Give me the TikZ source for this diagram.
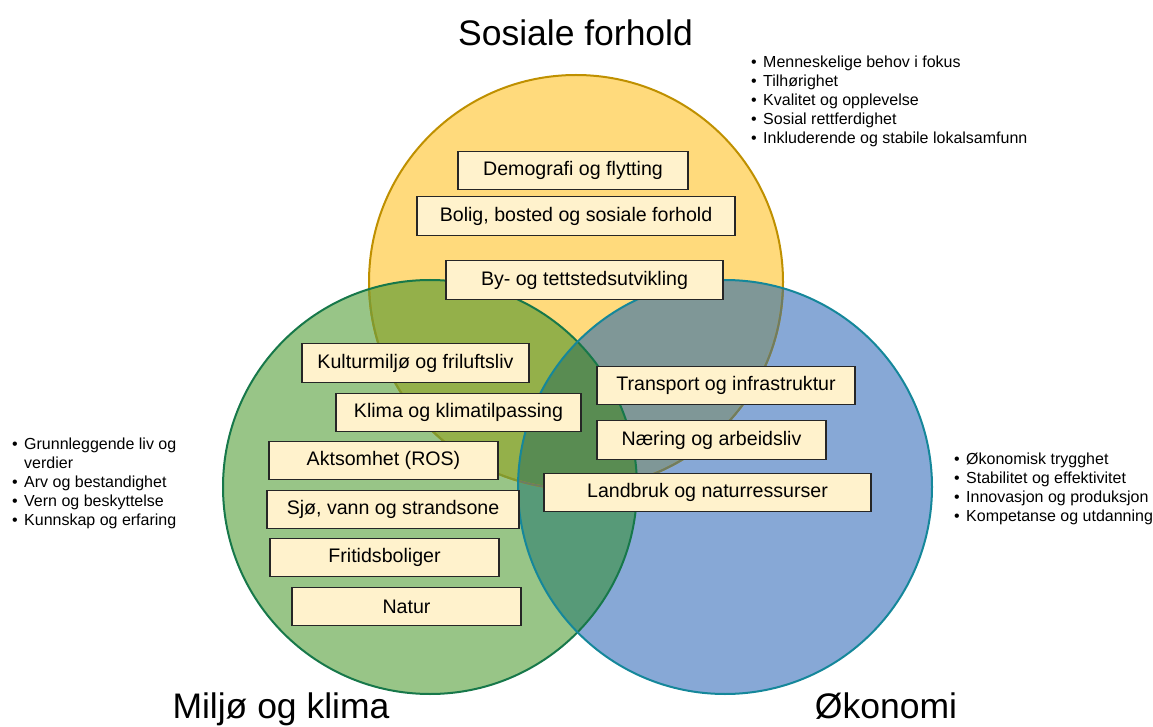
\documentclass[tikz,border=0pt]{standalone}
\usepackage{fontspec}
\setmainfont{Liberation Sans}
\usetikzlibrary{positioning}

\definecolor{socialFill}{HTML}{FFDA7C}
\definecolor{envFill}{HTML}{98C587}
\definecolor{econFill}{HTML}{87A8D6}
\definecolor{socEnvFill}{HTML}{94B04A}
\definecolor{socEconFill}{HTML}{7F9797}
\definecolor{envEconFill}{HTML}{579A78}
\definecolor{allFill}{HTML}{598C52}
\definecolor{socialEdge}{HTML}{BF9000}
\definecolor{socialEdgeEnv}{HTML}{7F9A30}
\definecolor{socialEdgeEcon}{HTML}{6E7C62}
\definecolor{envEdge}{HTML}{17784A}
\definecolor{econEdge}{HTML}{15879A}
\definecolor{topicFill}{HTML}{FFF2CC}

\begin{document}
\begin{tikzpicture}[x=1pt,y=1pt]
  \useasboundingbox (0,0) rectangle (1153,726);
  \tikzset{
    topic/.style={rectangle,draw=black!85,fill=topicFill,line width=1.1pt,
      minimum height=38.5pt,inner sep=0pt,font=\fontsize{19.6}{23}\selectfont},
    title/.style={anchor=base,inner sep=0pt,font=\fontsize{35.5}{40}\selectfont},
    bullets/.style={anchor=north west,inner sep=0pt,align=left,
      font=\fontsize{16}{19}\selectfont},
    ring/.style={line width=2pt},
    disc/.style={radius=207pt}
  }

  % Circle centres
  \coordinate (socialC) at (576,444);
  \coordinate (envC) at (430,239);
  \coordinate (econC) at (725,239);

  %%% FILLS
  \fill [socialFill] (socialC) circle [disc];
  \fill [envFill] (envC) circle [disc];
  \fill [econFill] (econC) circle [disc];
  \begin{scope}
    \clip (envC) circle [disc];
    \fill [socEnvFill] (socialC) circle [disc];
  \end{scope}
  \begin{scope}
    \clip (econC) circle [disc];
    \fill [socEconFill] (socialC) circle [disc];
  \end{scope}
  \begin{scope}
    \clip (envC) circle [disc];
    \fill [envEconFill] (econC) circle [disc];
    \clip (socialC) circle [disc];
    \fill [allFill] (econC) circle [disc];
  \end{scope}

  %%% OUTLINES
  \draw [ring,socialEdge] (socialC) circle [disc];
  \begin{scope}
    \clip (envC) circle [disc];
    \draw [ring,socialEdgeEnv] (socialC) circle [disc];
  \end{scope}
  \begin{scope}
    \clip (econC) circle [disc];
    \draw [ring,socialEdgeEcon] (socialC) circle [disc];
  \end{scope}
  \draw [ring,envEdge] (envC) circle [disc];
  \draw [ring,econEdge] (econC) circle [disc];

  % Titles
  \node [title] (socialTitle) at (575.5,680) {Sosiale forhold};
  \node [title] (envTitle) at (281,8) {Miljø og klima};
  \node [title] (econTitle) at (886,8) {Økonomi};

  % Sosiale forhold
  \node [topic,minimum width=230pt] (demografi) at (573,555.5) {Demografi og flytting};
  \node [topic,minimum width=318pt] (bolig) at (576,510) {Bolig, bosted og sosiale forhold};
  \node [topic,minimum width=277pt] (byutv) at (584.5,446) {By- og tettstedsutvikling};

  % Miljø og klima
  \node [topic,minimum width=227pt] (kultur) at (415.5,363) {Kulturmiljø og friluftsliv};
  \node [topic,minimum width=245pt] (klima) at (458.5,313.5) {Klima og klimatilpassing};
  \node [topic,minimum width=229pt] (aktsomhet) at (383.5,265.5) {Aktsomhet (ROS)};
  \node [topic,minimum width=252pt] (sjo) at (393,216.5) {Sjø, vann og strandsone};
  \node [topic,minimum width=229pt] (fritid) at (384.5,168.5) {Fritidsboliger};
  \node [topic,minimum width=229pt] (natur) at (406.5,119.5) {Natur};

  % Økonomi
  \node [topic,minimum width=258pt] (transport) at (726,340.5) {Transport og infrastruktur};
  \node [topic,minimum width=229pt] (naering) at (711.5,286) {Næring og arbeidsliv};
  \node [topic,minimum width=327pt] (landbruk) at (707.5,233.5) {Landbruk og naturressurser};

  % Lists
  \node [bullets] (socialList) at (751,672.3) {%
    \begin{tabular}{@{}l@{\hspace{6.4pt}}l@{}}
      \textbullet & Menneskelige behov i fokus\\
      \textbullet & Tilhørighet\\
      \textbullet & Kvalitet og opplevelse\\
      \textbullet & Sosial rettferdighet\\
      \textbullet & Inkluderende og stabile lokalsamfunn
    \end{tabular}};
  \node [bullets] (envList) at (12,290.3) {%
    \begin{tabular}{@{}l@{\hspace{6.4pt}}l@{}}
      \textbullet & Grunnleggende liv og\\
                  & verdier\\
      \textbullet & Arv og bestandighet\\
      \textbullet & Vern og beskyttelse\\
      \textbullet & Kunnskap og erfaring
    \end{tabular}};
  \node [bullets] (econList) at (954,275.3) {%
    \begin{tabular}{@{}l@{\hspace{6.4pt}}l@{}}
      \textbullet & Økonomisk trygghet\\
      \textbullet & Stabilitet og effektivitet\\
      \textbullet & Innovasjon og produksjon\\
      \textbullet & Kompetanse og utdanning
    \end{tabular}};
\end{tikzpicture}
\end{document}
